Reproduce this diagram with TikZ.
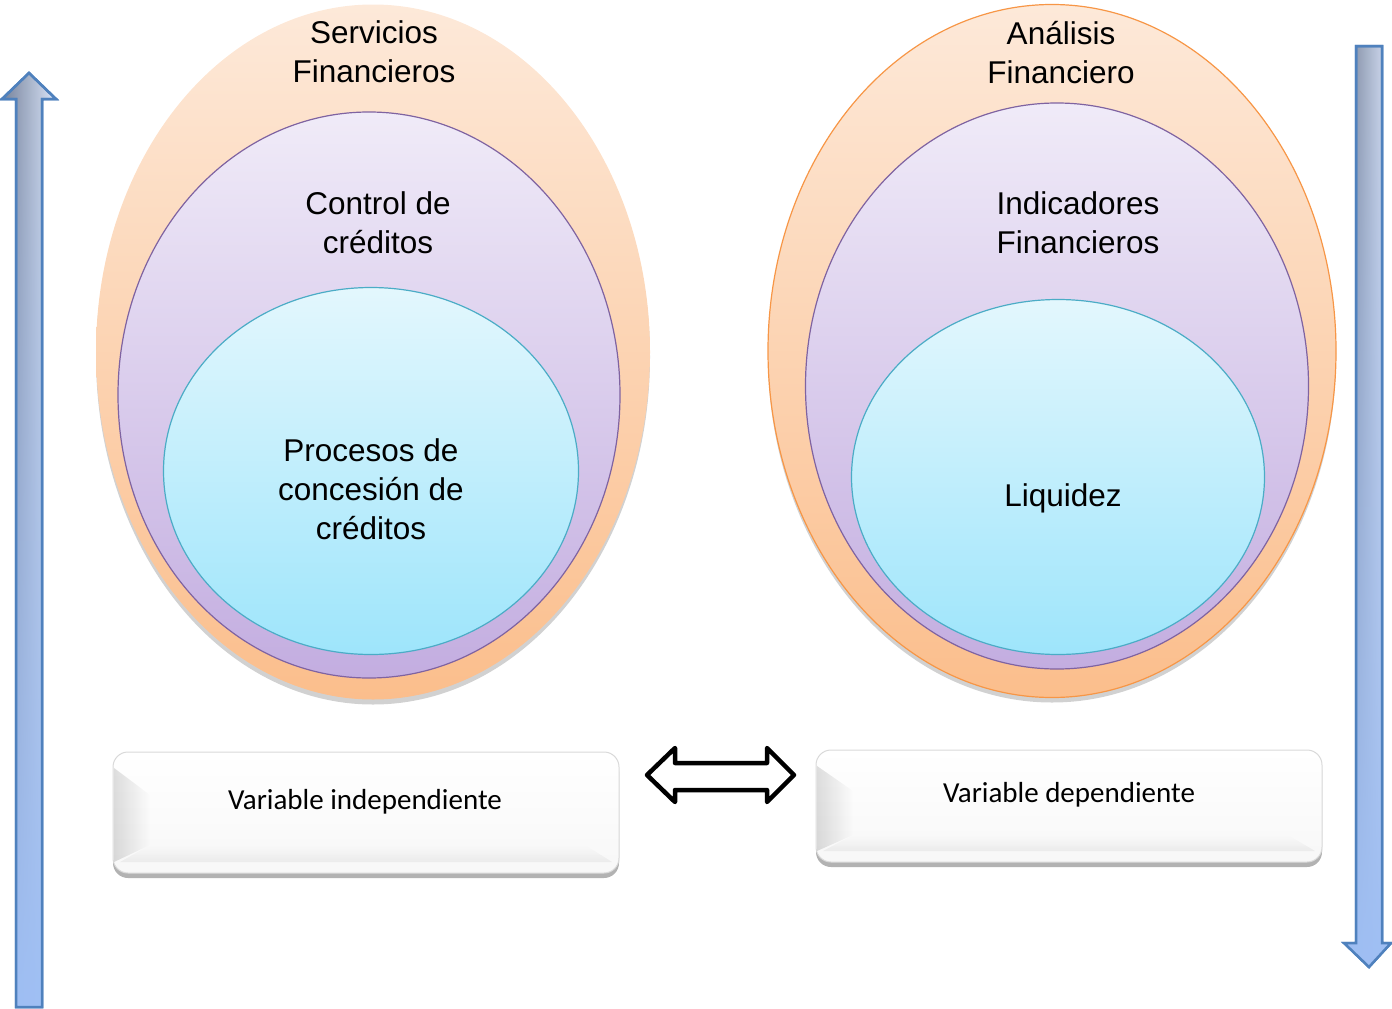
\documentclass[tikz,border=0pt]{standalone}
\usepackage{fontspec}
\setmainfont{Liberation Sans}
\newfontfamily\boxfont{Carlito}
\usetikzlibrary{shapes.geometric,shadows,fadings}

\definecolor{peachtop}{HTML}{FDE9D9}
\definecolor{peachbot}{HTML}{FBBE8C}
\definecolor{peachline}{HTML}{F79646}
\definecolor{lilactop}{HTML}{F0EBF8}
\definecolor{lilacbot}{HTML}{C3ADE0}
\definecolor{lilacline}{HTML}{7F63A1}
\definecolor{aquatop}{HTML}{E3F7FD}
\definecolor{aquabot}{HTML}{9EE5FB}
\definecolor{aqualine}{HTML}{4BACC6}
\definecolor{arrowdark}{HTML}{76829A}
\definecolor{arrowlight}{HTML}{DCE6F9}
\definecolor{arrowblue}{HTML}{9FBFF4}
\definecolor{arrowline}{HTML}{4F81BD}

\tikzset{
  ring/.style={ellipse, inner sep=0pt, line width=1.2pt},
  outerring/.style={ring, top color=peachtop, bottom color=peachbot,
    drop shadow={shadow xshift=0pt, shadow yshift=-5pt, opacity=.18, fill=black}},
  midring/.style={ring, draw=lilacline, top color=lilactop, bottom color=lilacbot},
  innerring/.style={ring, draw=aqualine, top color=aquatop, bottom color=aquabot},
  ringtext/.style={align=center, font=\fontsize{31.5}{39}\selectfont},
  varbox/.style={rounded corners=15pt, draw=black!15, line width=1pt,
    top color=white, bottom color=black!3,
    drop shadow={shadow xshift=0pt, shadow yshift=-5pt, opacity=.3, fill=black}},
  bevel/.style={fill=black, opacity=.13},
  boxtext/.style={font=\boxfont\fontsize{29}{32}\selectfont},
  bigarrow/.style={draw=arrowline, line width=2.5pt, line join=miter,
    left color=arrowdark, right color=arrowlight},
  bluewash/.style={fill=arrowblue, path fading=north},
  swaparrow/.style={draw=black, line width=4.5pt, fill=white, line join=round}
}

\begin{document}
\begin{tikzpicture}[x=1pt, y=-1pt]
\useasboundingbox (0,0) rectangle (1392,1009);

% left group of nested ellipses
\node (sf) [outerring, minimum width=554pt, minimum height=695pt] at (373,352) {};
\node (cc) [midring, minimum width=502pt, minimum height=566pt] at (369,395) {};
\node (pc) [innerring, minimum width=415pt, minimum height=367pt] at (371,471) {};
\node (sftext) [ringtext] at (374,52) {Servicios\\Financieros};
\node (cctext) [ringtext] at (378,223) {Control de\\créditos};
\node (pctext) [ringtext] at (371,489) {Procesos de\\concesión de\\créditos};

% right group of nested ellipses
\node (af) [outerring, draw=peachline, minimum width=568pt, minimum height=693pt] at (1052,351) {};
\node (if) [midring, minimum width=503pt, minimum height=566pt] at (1057,386) {};
\node (lq) [innerring, minimum width=413pt, minimum height=355pt] at (1058,477) {};
\node (aftext) [ringtext] at (1061,53) {Análisis\\Financiero};
\node (iftext) [ringtext] at (1078,223) {Indicadores\\Financieros};
\node (lqtext) [ringtext] at (1063,498) {Liquidez};

% variable boxes with a soft left bevel
\node (vi) [varbox, minimum width=506pt, minimum height=121pt] at (366,812.5) {};
\fill[bevel, path fading=east]
  (114,768) -- (150,795) -- (150,845) -- (114,862) -- cycle;
\fill[bevel, opacity=.05, path fading=north]
  (150,845) -- (585,845) -- (612,862) -- (120,862) -- cycle;
\node (vitext) [boxtext] at (365,802) {Variable independiente};

\node (vd) [varbox, minimum width=506pt, minimum height=112pt] at (1069,806) {};
\fill[bevel, path fading=east]
  (817,766) -- (853,791) -- (853,835) -- (817,851) -- cycle;
\fill[bevel, opacity=.05, path fading=north]
  (853,835) -- (1288,835) -- (1315,851) -- (823,851) -- cycle;
\node (vdtext) [boxtext] at (1069,795) {Variable dependiente};

% two-headed arrow between the boxes
\coordinate (swapL) at (647,775);
\coordinate (swapR) at (794,775);
\draw[swaparrow] (swapL) -- (675,748) -- (675,763) -- (767,763) -- (767,748)
  -- (swapR) -- (767,802) -- (767,790) -- (675,790) -- (675,802) -- cycle;

% upward arrow on the left
\coordinate (uptip) at (29,73);
\path[bigarrow] (uptip) -- (56,99) -- (42,99) -- (42,1007) -- (16,1007) -- (16,99) -- (2,99) -- cycle;
\fill[bluewash] (uptip) -- (56,99) -- (42,99) -- (42,1007) -- (16,1007) -- (16,99) -- (2,99) -- cycle;
\draw[draw=arrowline, line width=2.5pt] (uptip) -- (56,99) -- (42,99) -- (42,1007) -- (16,1007) -- (16,99) -- (2,99) -- cycle;

% downward arrow on the right
\coordinate (downtip) at (1369,967);
\path[bigarrow] (1356,46) -- (1382,46) -- (1382,943) -- (1391,943) -- (downtip) -- (1344,943) -- (1356,943) -- cycle;
\fill[bluewash] (1356,46) -- (1382,46) -- (1382,943) -- (1391,943) -- (downtip) -- (1344,943) -- (1356,943) -- cycle;
\draw[draw=arrowline, line width=2.5pt] (1356,46) -- (1382,46) -- (1382,943) -- (1391,943) -- (downtip) -- (1344,943) -- (1356,943) -- cycle;
\end{tikzpicture}
\end{document}
